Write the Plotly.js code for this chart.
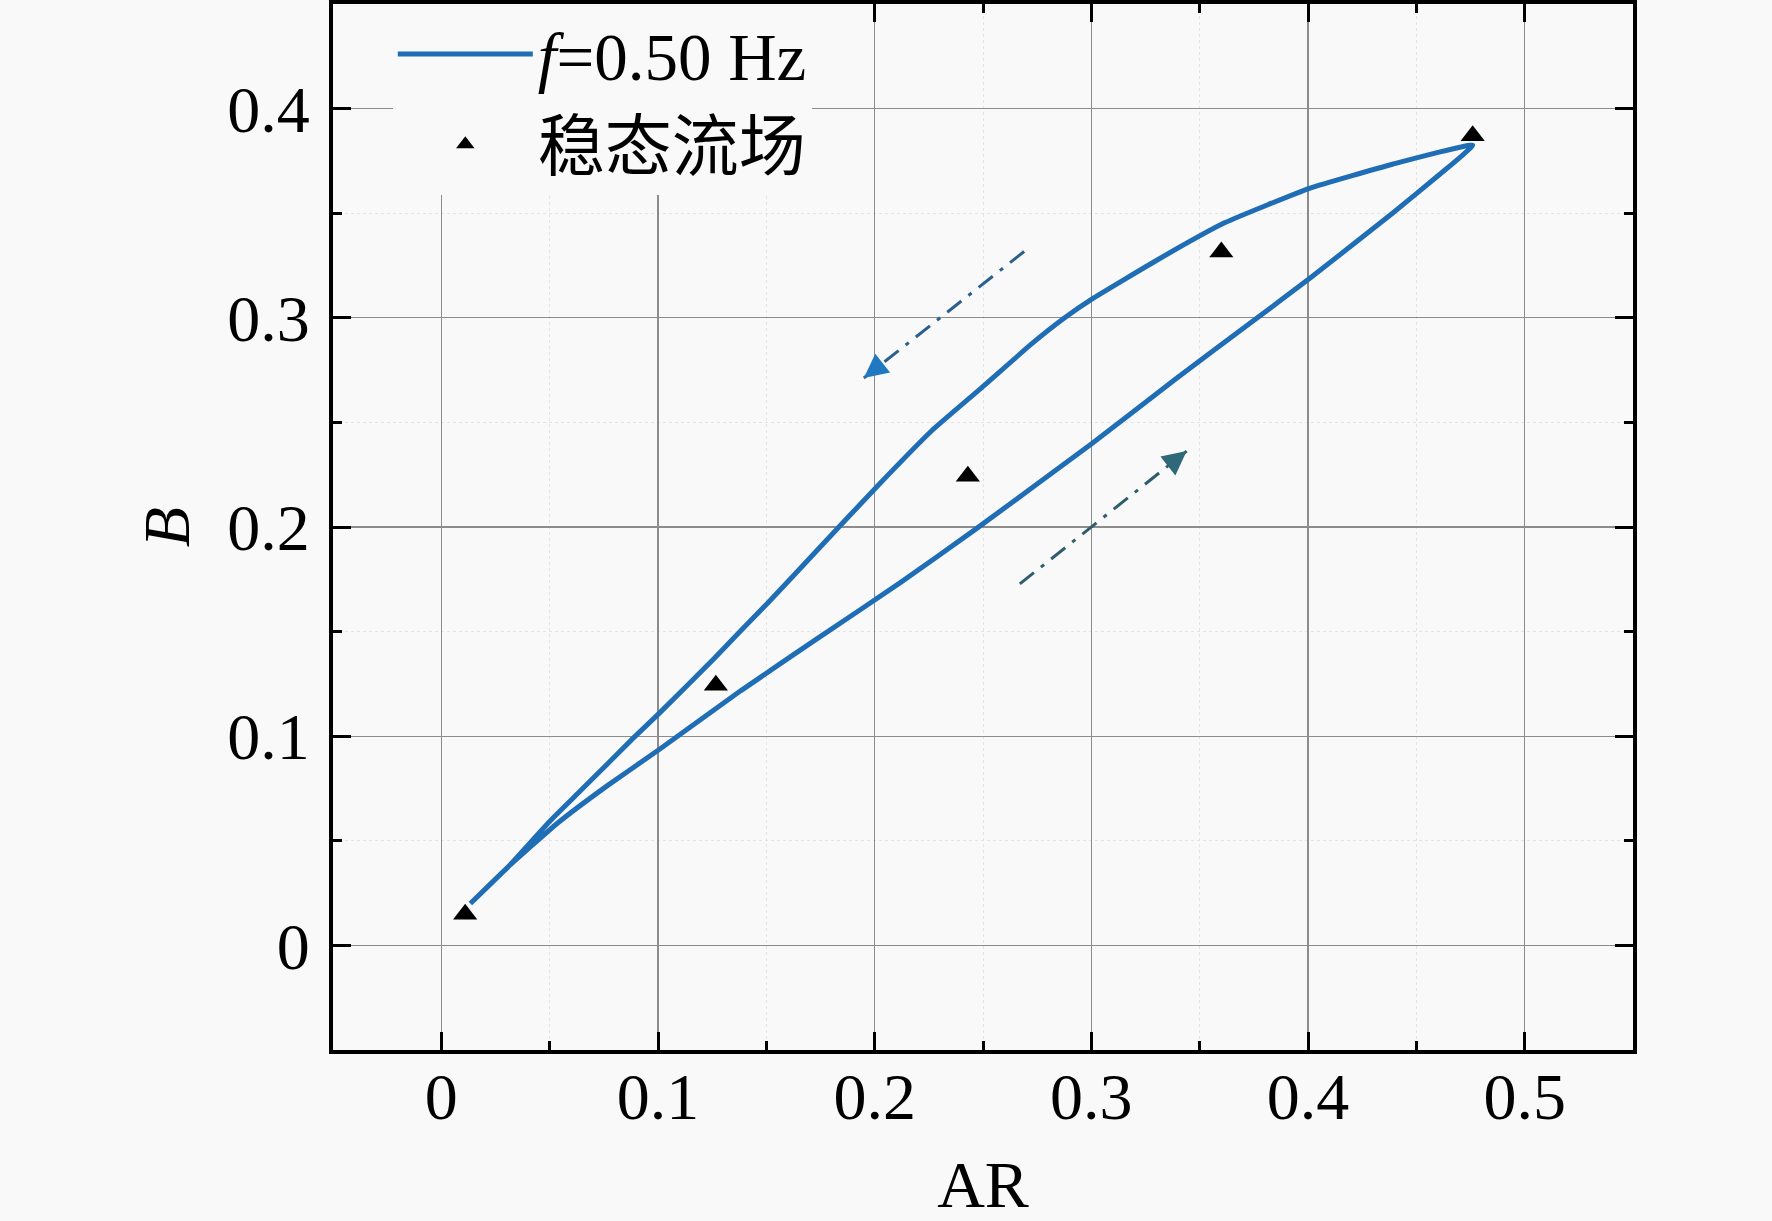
<!DOCTYPE html>
<html>
<head>
<meta charset="utf-8">
<script src="https://cdn.plot.ly/plotly-3.0.1.min.js"></script>
<style>html,body{margin:0;padding:0;background:#f9f9f9;}</style>
</head>
<body>
<div id="chart" style="width:1772px;height:1221px;"></div>
<script>
// Hysteresis loop (f = 0.50 Hz): lower branch (increasing AR) then upper branch (decreasing AR)
const lowerAR = [0.0134, 0.0305, 0.0537, 0.0768, 0.1004, 0.1383, 0.174, 0.212, 0.246, 0.300, 0.3386, 0.374, 0.401, 0.439, 0.4607, 0.476];
const lowerB  = [0.020, 0.0372, 0.0585, 0.0765, 0.0935, 0.1218, 0.147, 0.1735, 0.1985, 0.2397, 0.2705, 0.298, 0.319, 0.350, 0.3685, 0.3825];
const upperAR = [0.439, 0.401, 0.3617, 0.331, 0.3011, 0.2877, 0.2724, 0.2493, 0.2262, 0.2012, 0.174, 0.151, 0.1383, 0.1258, 0.1004, 0.0888, 0.0643, 0.0504, 0.0305, 0.0134];
const upperB  = [0.3734, 0.362, 0.3455, 0.328, 0.3095, 0.300, 0.2875, 0.2665, 0.2459, 0.2195, 0.1895, 0.164, 0.1505, 0.137, 0.1108, 0.0993, 0.074, 0.0597, 0.0372, 0.020];
const loopAR = lowerAR.concat(upperAR);
const loopB  = lowerB.concat(upperB);
// Steady flow field points
const steadyAR = [0.011, 0.1267, 0.243, 0.360, 0.476];
const steadyB  = [0.0149, 0.1244, 0.2242, 0.3314, 0.387];
// Direction arrows (start -> tip)
const arrowDownAR = [0.269, 0.195], arrowDownB = [0.3317, 0.2712];
const arrowUpAR   = [0.267, 0.344], arrowUpB   = [0.1728, 0.2363];
// Axis ticks
const xTicks = [0, 0.1, 0.2, 0.3, 0.4, 0.5];
const xTickText = ['0', '0.1', '0.2', '0.3', '0.4', '0.5'];
const yTicks = [0, 0.1, 0.2, 0.3, 0.4];
const yTickText = ['0', '0.1', '0.2', '0.3', '0.4'];
const names = ['<i>f</i>=0.50 Hz', '稳态流场'];

const FONT = 'Liberation Serif, Times New Roman, Noto Sans CJK SC, serif';
const BG = '#f9f9f9';

function tipBack(xs, ys, frac) {
  return [xs[1] - (xs[1] - xs[0]) * frac, ys[1] - (ys[1] - ys[0]) * frac];
}

const traces = [
  {x: loopAR, y: loopB, mode: 'lines', name: names[0],
   line: {color: '#1f6db5', width: 5, shape: 'spline', smoothing: 0.4}},
  {x: steadyAR, y: steadyB, mode: 'markers', name: names[1],
   marker: {symbol: 'triangle-up', size: 21, color: '#000000'}},
  {x: arrowDownAR, y: arrowDownB, mode: 'lines', showlegend: false, hoverinfo: 'skip',
   line: {color: '#2b5f8e', width: 3, dash: '18px,9px,4px,9px'}},
  {x: arrowUpAR, y: arrowUpB, mode: 'lines', showlegend: false, hoverinfo: 'skip',
   line: {color: '#2f5d6b', width: 3, dash: '18px,9px,4px,9px'}}
];

const bd = tipBack(arrowDownAR, arrowDownB, 0.06);
const bu = tipBack(arrowUpAR, arrowUpB, 0.06);

const axisCommon = {
  ticks: 'inside', ticklen: 18, tickwidth: 3, tickcolor: '#000',
  showline: true, linewidth: 4, linecolor: '#000', mirror: 'allticks',
  showgrid: true, gridcolor: '#8c8c8c', gridwidth: 1.2, zeroline: false,
  tickfont: {family: FONT, size: 66, color: '#000'},
  minor: {ticks: 'inside', ticklen: 9, tickwidth: 3, tickcolor: '#000', dtick: 0.05, tick0: 0,
          showgrid: true, gridcolor: '#e4e4e4', gridwidth: 1, griddash: 'dot'}
};

const layout = {
  width: 1772, height: 1221,
  paper_bgcolor: BG, plot_bgcolor: BG,
  margin: {l: 333, r: 139, t: 4, b: 171},
  showlegend: true,
  legend: {x: 0.046, y: 1, xanchor: 'left', yanchor: 'top', bgcolor: BG,
           font: {family: FONT, size: 67, color: '#000'}, itemwidth: 135, tracegroupgap: 0},
  xaxis: Object.assign({}, axisCommon, {
    range: [-0.05, 0.55], tickvals: xTicks, ticktext: xTickText, ticklabelstandoff: -14,
    title: {text: 'AR', font: {family: FONT, size: 66, color: '#000'}, standoff: 46}
  }),
  yaxis: Object.assign({}, axisCommon, {
    range: [-0.05, 0.45], tickvals: yTicks, ticktext: yTickText, ticklabelstandoff: 6,
    title: {text: '<i>B</i>', font: {family: FONT, size: 66, color: '#000'}, standoff: 17}
  }),
  annotations: [
    {x: arrowDownAR[1], y: arrowDownB[1], ax: bd[0], ay: bd[1], axref: 'x', ayref: 'y', xref: 'x', yref: 'y',
     text: '', showarrow: true, arrowhead: 2, arrowsize: 1.6, arrowwidth: 3, arrowcolor: '#1f78c0'},
    {x: arrowUpAR[1], y: arrowUpB[1], ax: bu[0], ay: bu[1], axref: 'x', ayref: 'y', xref: 'x', yref: 'y',
     text: '', showarrow: true, arrowhead: 2, arrowsize: 1.6, arrowwidth: 3, arrowcolor: '#2f6878'}
  ]
};

Plotly.newPlot('chart', traces, layout, {staticPlot: true});
</script>
</body>
</html>
